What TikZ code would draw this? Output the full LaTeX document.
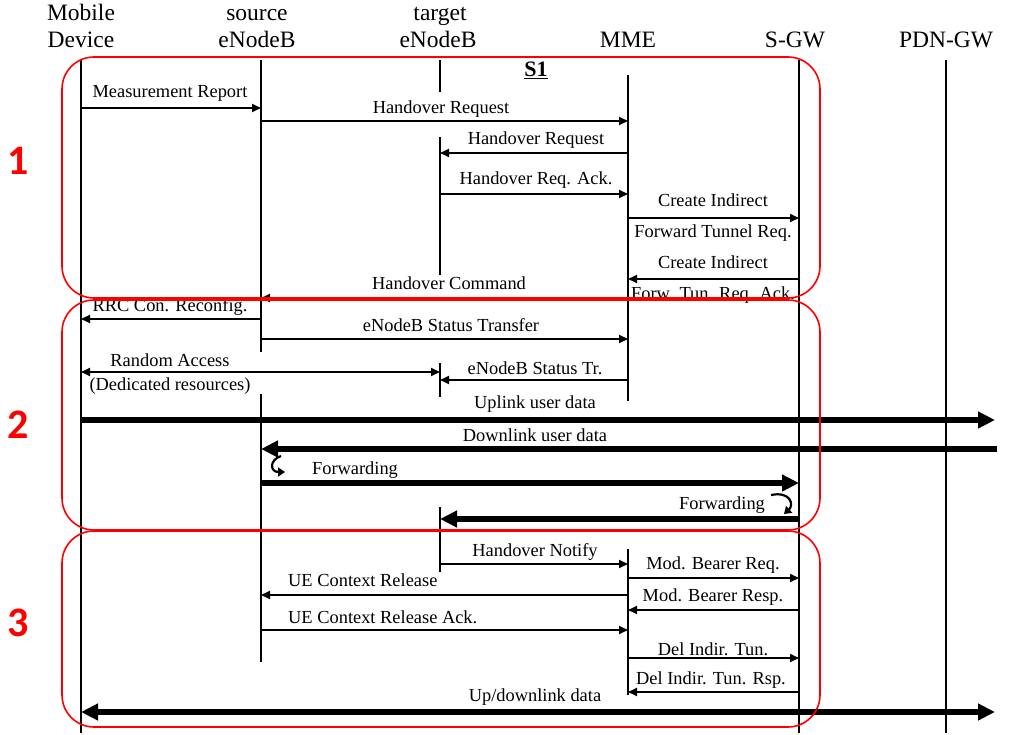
\documentclass[tikz,border=0pt]{standalone}
\usepackage{fontspec}
\setmainfont{Liberation Serif}
\newfontfamily\numfont{Carlito}
\usetikzlibrary{arrows.meta,calc}
\begin{document}
\begin{tikzpicture}[x=1pt,y=-1pt,
  life/.style={line width=2pt,black},
  msg/.style={line width=1.9pt,black,-{Triangle[length=9pt,width=8pt]}},
  msgboth/.style={line width=1.9pt,black,{Triangle[length=9pt,width=8pt]}-{Triangle[length=9pt,width=8pt]}},
  data/.style={line width=5.5pt,black,-{Triangle[length=17pt,width=16pt]}},
  databoth/.style={line width=5.5pt,black,{Triangle[length=17pt,width=16pt]}-{Triangle[length=17pt,width=16pt]}},
  hook/.style={line width=2.2pt,black,-{Triangle[length=7pt,width=9pt]}},
  hdr/.style={font=\fontsize{23.5}{26}\selectfont,anchor=base,inner sep=0pt},
  lbl/.style={font=\fontsize{18.4}{20}\selectfont,anchor=base,inner sep=0pt},
  lblw/.style={lbl,anchor=base west},
  phase/.style={draw=red,line width=1.6pt,rounded corners=32pt},
  num/.style={font=\numfont\bfseries\fontsize{42}{44}\selectfont,text=red,anchor=base,inner sep=0pt}]
\useasboundingbox (0,0) rectangle (1009,735);

% header
\node[hdr] (mdA) at (81,21) {Mobile};
\node[hdr] (mdB) at (81,48) {Device};
\node[hdr] (seA) at (257,21) {source};
\node[hdr] (seB) at (257,48) {eNodeB};
\node[hdr] (teA) at (440,21) {target};
\node[hdr] (teB) at (438,48) {eNodeB};
\node[hdr] (mmeB) at (628,48) {MME};
\node[hdr] (sgwB) at (795,48) {S-GW};
\node[hdr] (pdnB) at (946,48) {PDN-GW};

% lifeline positions
\coordinate (md) at (81,0);
\coordinate (se) at (261,0);
\coordinate (te) at (440,0);
\coordinate (mme) at (628,0);
\coordinate (sgw) at (799,0);
\coordinate (pdn) at (946,0);

% lifelines
\draw[life] ($(md)+(0,60)$) -- ($(md)+(0,733)$);
\draw[life] ($(se)+(0,60)$) -- ($(se)+(0,352)$);
\draw[life] ($(se)+(0,394)$) -- ($(se)+(0,662)$);
\draw[life] ($(te)+(0,60)$) -- ($(te)+(0,92)$);
\draw[life] ($(te)+(0,137)$) -- ($(te)+(0,275)$);
\draw[life] ($(te)+(0,363)$) -- ($(te)+(0,397)$);
\draw[life] ($(te)+(0,507)$) -- ($(te)+(0,572)$);
\draw[life] ($(mme)+(0,75)$) -- ($(mme)+(0,401)$);
\draw[life] ($(mme)+(0,549)$) -- ($(mme)+(0,695)$);
\draw[life] ($(sgw)+(0,60)$) -- ($(sgw)+(0,733)$);
\draw[life] ($(pdn)+(0,60)$) -- ($(pdn)+(0,733)$);

% S1
\node[font=\bfseries\fontsize{22}{24}\selectfont,anchor=base,inner sep=0pt] (s1) at (536,77) {\underline{S1}};

% phase 1
\draw[msg] ($(md)+(0,108)$) -- ($(se)+(0,108)$);
\node[lbl] (l1) at (170,98) {Measurement Report};
\draw[msg] ($(se)+(0,121)$) -- ($(mme)+(0,121)$);
\node[lbl] (l2) at (441,114) {Handover Request};
\draw[msg] ($(mme)+(0,153)$) -- ($(te)+(0,153)$);
\node[lbl] (l3) at (536,145) {Handover Request};
\draw[msg] ($(te)+(0,194)$) -- ($(mme)+(0,194)$);
\node[lbl] (l4) at (536,185) {Handover Req. Ack.};
\draw[msg] ($(mme)+(0,218)$) -- ($(sgw)+(0,218)$);
\node[lbl] (l5a) at (713,207) {Create Indirect};
\node[lbl] (l5b) at (713,238) {Forward Tunnel Req.};
\draw[msg] ($(sgw)+(0,279)$) -- ($(mme)+(0,279)$);
\node[lbl] (l6a) at (713,269) {Create Indirect};
\node[lbl] (l6b) at (713,299) {Forw. Tun. Req. Ack.};
\draw[msg] ($(mme)+(0,298)$) -- ($(se)+(0,298)$);
\node[lbl] (l7) at (449,290) {Handover Command};

% phase 2
\draw[msg] ($(se)+(0,319)$) -- ($(md)+(0,319)$);
\node[lbl] (l8) at (170,311) {RRC Con. Reconfig.};
\draw[msg] ($(se)+(0,339)$) -- ($(mme)+(0,339)$);
\node[lbl] (l9) at (451,331) {eNodeB Status Transfer};
\draw[msgboth] ($(md)+(0,372)$) -- ($(te)+(0,372)$);
\node[lbl] (l10a) at (170,366) {Random Access};
\node[lbl] (l10b) at (170,390) {(Dedicated resources)};
\draw[msg] ($(mme)+(0,380)$) -- ($(te)+(0,380)$);
\node[lbl] (l11) at (535,374) {eNodeB Status Tr.};
\coordinate (ulEnd) at (995,420);
\draw[data] ($(md)+(0,420)$) -- (ulEnd);
\node[lbl] (l12) at (535,408) {Uplink user data};
\coordinate (dlStart) at (997,449);
\draw[data] (dlStart) -- ($(se)+(0,449)$);
\node[lbl] (l13) at (535,441) {Downlink user data};
\draw[data] ($(se)+(0,483)$) -- ($(sgw)+(0,483)$);
\node[lbl] (l14) at (355,474) {Forwarding};
\draw[hook] (281,456) .. controls (269,460) and (270,472) .. (285,472);
\draw[data] ($(sgw)+(0,519)$) -- ($(te)+(0,519)$);
\node[lbl] (l15) at (722,509) {Forwarding};
\draw[hook] (771,495) .. controls (791,491) and (794,505) .. (784,514);

% phase 3
\draw[msg] ($(te)+(0,564)$) -- ($(mme)+(0,564)$);
\node[lbl] (l16) at (535,556) {Handover Notify};
\draw[msg] ($(mme)+(0,578)$) -- ($(sgw)+(0,578)$);
\node[lbl] (l17) at (713,569) {Mod. Bearer Req.};
\draw[msg] ($(mme)+(0,595)$) -- ($(se)+(0,595)$);
\node[lblw] (l18) at (288,586) {UE Context Release};
\draw[msg] ($(sgw)+(0,610)$) -- ($(mme)+(0,610)$);
\node[lbl] (l19) at (713,601) {Mod. Bearer Resp.};
\draw[msg] ($(se)+(0,630)$) -- ($(mme)+(0,630)$);
\node[lblw] (l20) at (288,623) {UE Context Release Ack.};
\draw[msg] ($(mme)+(0,658)$) -- ($(sgw)+(0,658)$);
\node[lbl] (l21) at (713,655) {Del Indir. Tun.};
\draw[msg] ($(sgw)+(0,692)$) -- ($(mme)+(0,692)$);
\node[lbl] (l22) at (711,684) {Del Indir. Tun. Rsp.};
\coordinate (udEnd) at (995,712);
\draw[databoth] ($(md)+(0,712)$) -- (udEnd);
\node[lbl] (l23) at (535,701) {Up/downlink data};

% phase boxes
\draw[phase] (62,57) rectangle (820,298);
\draw[phase] (62,300) rectangle (820,530);
\draw[phase] (62,531) rectangle (820,727);

\node[num] (n1) at (18.5,175) {1};
\node[num] (n2) at (18.5,438) {2};
\node[num] (n3) at (18.5,636) {3};
\end{tikzpicture}
\end{document}
